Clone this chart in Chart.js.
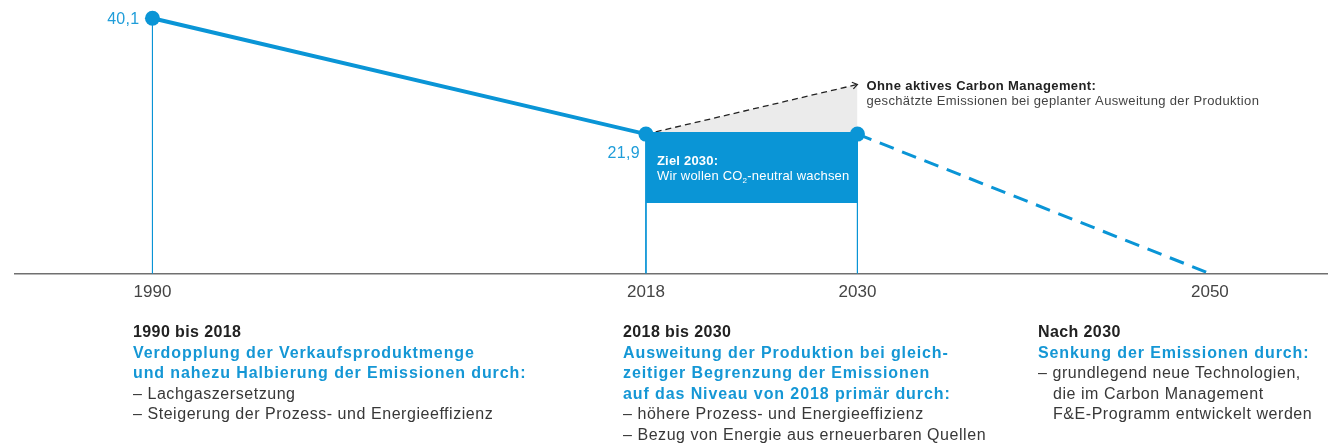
<!DOCTYPE html>
<html lang="de">
<head>
<meta charset="utf-8">
<script src="https://cdn.jsdelivr.net/npm/chart.js@4/dist/chart.umd.min.js"></script>
<style>
  html, body { margin: 0; padding: 0; background: #fff; }
  #wrap { position: relative; width: 1328px; height: 443px; overflow: hidden; }
  #chart { position: absolute; left: 0; top: 0; }
  .block {
    position: absolute; top: 322px;
    font-family: "Liberation Sans", Arial, sans-serif;
    font-size: 16px; line-height: 20.5px; color: #383838;
    letter-spacing: 0.55px; white-space: nowrap;
  }
  .block .head { font-weight: bold; color: #222; letter-spacing: 0.4px; }
  .block .blue { font-weight: bold; color: #1597d5; letter-spacing: 0.9px; }
  .block .hang { padding-left: 15px; }
</style>
</head>
<body>
<div id="wrap">
  <canvas id="chart" width="1328" height="443"></canvas>

  <div class="block" style="left:133px">
    <div class="head">1990 bis 2018</div>
    <div class="blue">Verdopplung der Verkaufsproduktmenge<br>und nahezu Halbierung der Emissionen durch:</div>
    <div>– Lachgaszersetzung</div>
    <div>– Steigerung der Prozess- und Energieeffizienz</div>
  </div>

  <div class="block" style="left:623px">
    <div class="head">2018 bis 2030</div>
    <div class="blue">Ausweitung der Produktion bei gleich-<br>zeitiger Begrenzung der Emissionen<br>auf das Niveau von 2018 primär durch:</div>
    <div>– höhere Prozess- und Energieeffizienz</div>
    <div>– Bezug von Energie aus erneuerbaren Quellen</div>
  </div>

  <div class="block" style="left:1038px">
    <div class="head">Nach 2030</div>
    <div class="blue">Senkung der Emissionen durch:</div>
    <div>– grundlegend neue Technologien,</div>
    <div class="hang">die im Carbon Management</div>
    <div class="hang">F&amp;E-Programm entwickelt werden</div>
  </div>
</div>

<script>
// Emissionen in Mio. t CO2-Äquivalente
const xTicks = [1990, 2018, 2030, 2050];
const actualYears = [1990, 2018, 2030];
const actualValues = [40.1, 21.9, 21.9];
const outlookYears = [2030, 2050];
const outlookValues = [21.9, 0];
const withoutCmYears = [2018, 2030];
const withoutCmValues = [21.9, 29.7];
const targetYears = [2018, 2030];
const targetValues = [21.9, 21.9];
const targetBoxBottom = 11.1;
const valueLabels = ['40,1', '21,9'];

const BLUE = '#0a95d6';
const LABEL_BLUE = '#1f9dd9';
const FONT = '"Liberation Sans", Arial, sans-serif';

const toPoints = (xs, ys) => xs.map((x, i) => ({ x: x, y: ys[i] }));

// thin drop lines from each marked value down to the axis
const dropLines = actualYears.map((yr, i) => ({
    data: [{ x: yr, y: actualValues[i] }, { x: yr, y: 0 }],
    borderColor: BLUE,
    borderWidth: 1,
    pointRadius: 0,
    fill: false
}));

const annotations = {
    id: 'annotations',
    afterDatasetsDraw(chart) {
        const ctx = chart.ctx;
        const actual = chart.getDatasetMeta(0).data;
        const target = chart.getDatasetMeta(2).data;
        const noCm = chart.getDatasetMeta(3).data;

        ctx.save();
        // value labels
        ctx.fillStyle = LABEL_BLUE;
        ctx.font = '16px ' + FONT;
        ctx.letterSpacing = '0.3px';
        ctx.textAlign = 'right';
        ctx.textBaseline = 'middle';
        ctx.fillText(valueLabels[0], actual[0].x - 13, actual[0].y + 1);
        ctx.fillText(valueLabels[1], actual[1].x - 6, actual[1].y + 19);

        // text inside the target box
        const bx = target[0].x + 11;
        const by = target[0].y;
        ctx.textAlign = 'left';
        ctx.textBaseline = 'alphabetic';
        ctx.fillStyle = '#fff';
        ctx.letterSpacing = '0.2px';
        ctx.font = 'bold 13px ' + FONT;
        ctx.fillText('Ziel 2030:', bx, by + 31);
        ctx.font = '13px ' + FONT;
        let tx = bx;
        ctx.fillText('Wir wollen CO', tx, by + 46);
        tx += ctx.measureText('Wir wollen CO').width;
        ctx.font = '8px ' + FONT;
        ctx.fillText('2', tx, by + 49);
        tx += ctx.measureText('2').width;
        ctx.font = '13px ' + FONT;
        ctx.fillText('-neutral wachsen', tx, by + 46);

        // arrow head on the dashed line
        const a = noCm[0], b = noCm[1];
        const ang = Math.atan2(b.y - a.y, b.x - a.x);
        ctx.strokeStyle = '#222';
        ctx.lineWidth = 1.2;
        ctx.beginPath();
        ctx.moveTo(b.x - 6 * Math.cos(ang - 0.6), b.y - 6 * Math.sin(ang - 0.6));
        ctx.lineTo(b.x, b.y);
        ctx.lineTo(b.x - 6 * Math.cos(ang + 0.6), b.y - 6 * Math.sin(ang + 0.6));
        ctx.stroke();

        // note next to the arrow
        ctx.fillStyle = '#222';
        ctx.letterSpacing = '0.4px';
        ctx.font = 'bold 13px ' + FONT;
        ctx.fillText('Ohne aktives Carbon Management:', b.x + 9, b.y + 6);
        ctx.fillStyle = '#444';
        ctx.letterSpacing = '0.35px';
        ctx.font = '13px ' + FONT;
        ctx.fillText('geschätzte Emissionen bei geplanter Ausweitung der Produktion', b.x + 9, b.y + 21);
        ctx.restore();
    }
};

new Chart(document.getElementById('chart'), {
    type: 'line',
    data: {
        datasets: [
            {
                data: toPoints(actualYears, actualValues),
                borderColor: BLUE,
                borderWidth: 4,
                pointRadius: 7.5,
                pointBackgroundColor: BLUE,
                pointBorderWidth: 0,
                fill: false
            },
            {
                data: toPoints(outlookYears, outlookValues),
                borderColor: BLUE,
                borderWidth: 3,
                borderDash: [15, 9],
                pointRadius: 0,
                fill: false
            },
            {
                // target box 2018-2030
                data: toPoints(targetYears, targetValues),
                borderWidth: 0,
                pointRadius: 0,
                backgroundColor: BLUE,
                fill: { value: targetBoxBottom }
            },
            {
                data: toPoints(withoutCmYears, withoutCmValues),
                borderColor: '#222',
                borderWidth: 1.3,
                borderDash: [6, 4],
                pointRadius: 0,
                backgroundColor: '#ebebeb',
                fill: { target: 2 }
            },
            ...dropLines
        ]
    },
    options: {
        responsive: false,
        animation: false,
        events: [],
        layout: {
            autoPadding: false,
            padding: { left: 15, right: 0, top: 8, bottom: 131 }
        },
        plugins: {
            legend: { display: false },
            tooltip: { enabled: false }
        },
        scales: {
            x: {
                type: 'linear',
                min: 1982.2,
                max: 2056.7,
                afterBuildTicks: (scale) => {
                    scale.ticks = xTicks.map(v => ({ value: v }));
                },
                // the axis line runs to the canvas edge, no room kept for labels
                afterFit: (scale) => {
                    scale.paddingLeft = 0;
                    scale.paddingRight = 0;
                },
                grid: { display: false, drawTicks: false },
                border: { color: '#707070', width: 1.5 },
                ticks: {
                    padding: 9,
                    color: '#444',
                    font: { family: FONT, size: 17 },
                    maxRotation: 0,
                    autoSkip: false,
                    callback: (v) => String(v)
                }
            },
            y: {
                display: false,
                min: 0,
                max: 41.7
            }
        }
    },
    plugins: [annotations]
});
</script>
</body>
</html>
